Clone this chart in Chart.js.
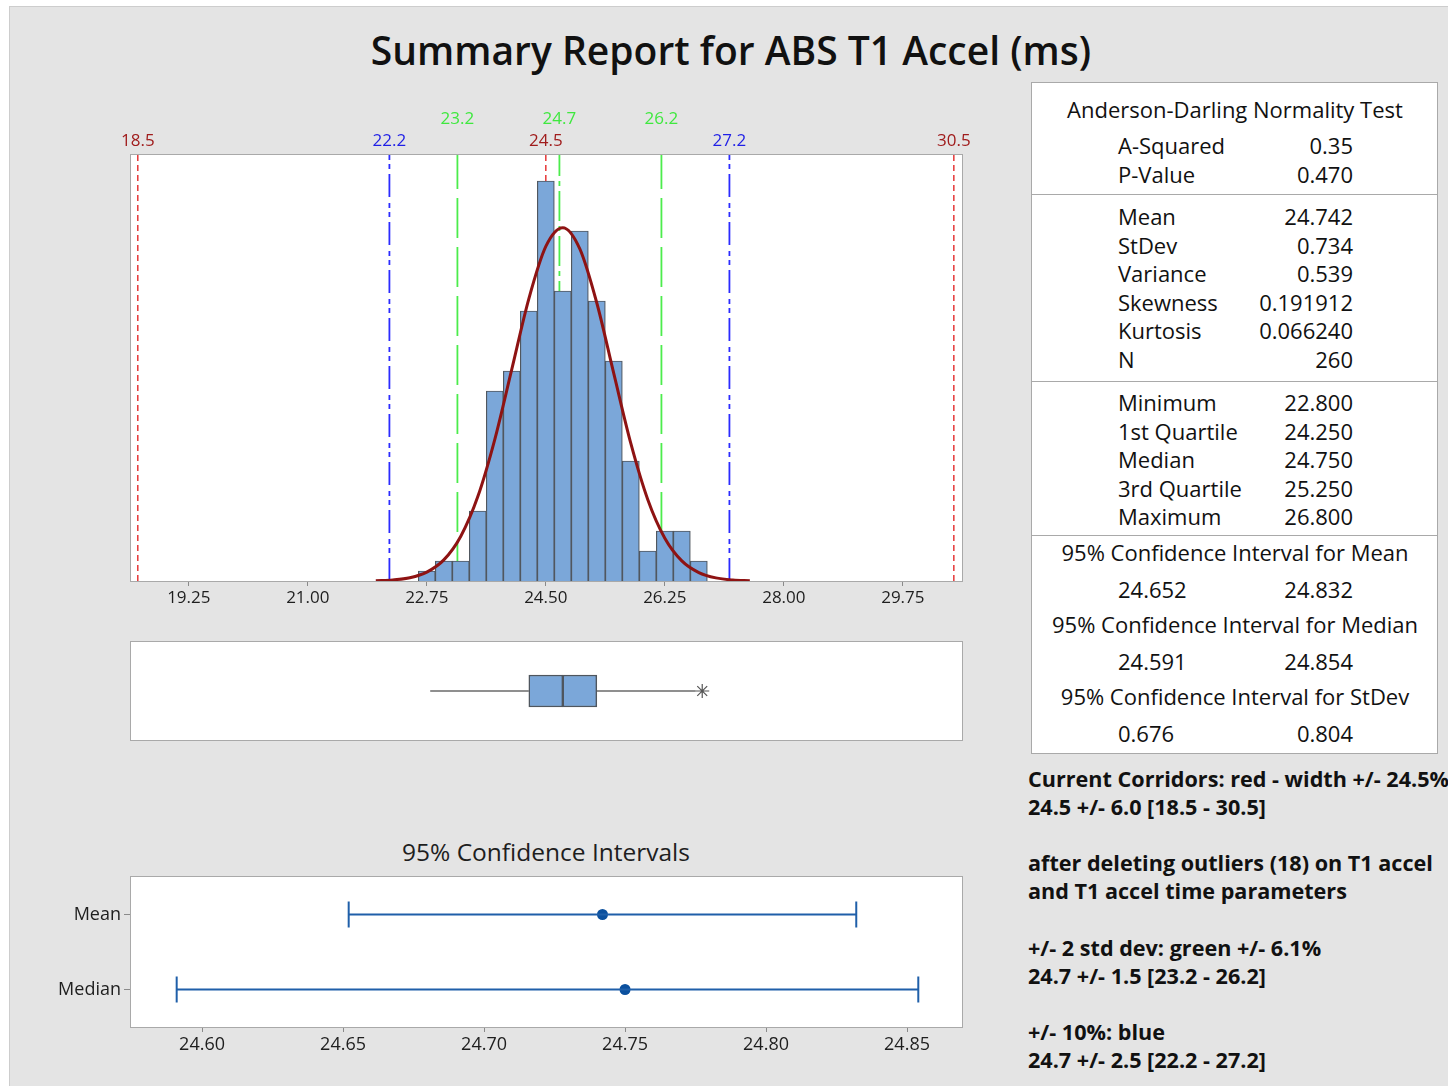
<!DOCTYPE html>
<html>
<head>
<meta charset="utf-8">
<title>Summary Report for ABS T1 Accel (ms)</title>
<script src="https://cdn.jsdelivr.net/npm/chart.js@4.4.1/dist/chart.umd.min.js"></script>
<style>
  html, body { margin: 0; padding: 0; width: 1448px; height: 1086px; overflow: hidden; background: #fff; }
  body { position: relative; font-family: "Open Sans", "Noto Sans", sans-serif; color: #141414; }
  #sheet { position: absolute; left: 9px; top: 6px; right: 0; bottom: 0; background: #e4e4e4; border-left: 1px solid #cdcdcd; border-top: 1px solid #cdcdcd; }
  canvas { position: absolute; }
  .txt { position: absolute; white-space: nowrap; }
  #title { left: 281px; width: 900px; top: 25px; text-align: center; font-size: 39px; font-weight: 600; line-height: 50px; color: #111; }
  #ciTitle { left: 346px; width: 400px; top: 837px; text-align: center; font-size: 24.5px; line-height: 30px; color: #1e1e1e; }
  #stats { position: absolute; left: 1031px; top: 82px; width: 407px; height: 672px; box-sizing: border-box; background: #fff; border: 1px solid #a9a9a9; }
  .sep { position: absolute; left: 1031px; width: 407px; height: 1px; background: #a9a9a9; }
  .st { position: absolute; white-space: nowrap; font-size: 22px; line-height: 28px; color: #111; }
  #notes { position: absolute; left: 1028px; top: 765px; font-size: 21.6px; font-weight: bold; line-height: 28.1px; white-space: nowrap; color: #111; }
</style>
</head>
<body>
<div id="sheet"></div>
<div class="txt" id="title">Summary Report for ABS T1 Accel (ms)</div>
<canvas id="hist" width="1000" height="530" style="left:31px;top:95px"></canvas>
<canvas id="box" width="1000" height="120" style="left:31px;top:630px"></canvas>
<div class="txt" id="ciTitle">95% Confidence Intervals</div>
<canvas id="ci" width="1000" height="224" style="left:20px;top:862px"></canvas>
<div id="stats"></div>
<div id="notes"></div>
<script>
const FONT = '"Open Sans", "Noto Sans", sans-serif';
Chart.defaults.font.family = FONT;
Chart.defaults.animation = false;

// histogram, 0.25 wide bins, N = 260
const binCenters = [22.75, 23.00, 23.25, 23.50, 23.75, 24.00, 24.25, 24.50, 24.75, 25.00, 25.25, 25.50, 25.75, 26.00, 26.25, 26.50, 26.75];
const binCounts = [1, 2, 2, 7, 19, 21, 27, 40, 29, 35, 28, 22, 12, 3, 5, 5, 2];

// fitted normal curve, read at 0.25 steps
const fitX = [22.00, 22.25, 22.50, 22.75, 23.00, 23.25, 23.50, 23.75, 24.00, 24.25, 24.50, 24.75,
              25.00, 25.25, 25.50, 25.75, 26.00, 26.25, 26.50, 26.75, 27.00, 27.25, 27.50];
const fitY = [0.03, 0.11, 0.33, 0.89, 2.11, 4.48, 8.44, 14.17, 21.19, 28.22, 33.46, 35.33,
              33.21, 27.80, 20.73, 13.76, 8.13, 4.28, 2.01, 0.84, 0.31, 0.10, 0.03];

const histTicks = [19.25, 21.00, 22.75, 24.50, 26.25, 28.00, 29.75];
const histMin = 18.40, histMax = 30.62, histTop = 42.6;

// corridor limits
const redLimits = [18.5, 24.5, 30.5];
const blueLimits = [22.2, 27.2];
const greenLimits = [23.2, 24.7, 26.2];

// boxplot
const boxWhiskers = [22.8, 26.7];
const boxQuartiles = [24.25, 24.75, 25.25];
const boxOutliers = [26.8];

// 95% confidence intervals
const ciLabels = ['Mean', 'Median'];
const ciCenter = [24.742, 24.750];
const ciLow = [24.652, 24.591];
const ciHigh = [24.832, 24.854];
const ciTicks = [24.60, 24.65, 24.70, 24.75, 24.80, 24.85];

// summary table
const adRows = [['A-Squared', '0.35'], ['P-Value', '0.470']];
const descRows = [['Mean', '24.742'], ['StDev', '0.734'], ['Variance', '0.539'],
                  ['Skewness', '0.191912'], ['Kurtosis', '0.066240'], ['N', '260']];
const quantRows = [['Minimum', '22.800'], ['1st Quartile', '24.250'], ['Median', '24.750'],
                   ['3rd Quartile', '25.250'], ['Maximum', '26.800']];
const ciTable = [['95% Confidence Interval for Mean', '24.652', '24.832'],
                 ['95% Confidence Interval for Median', '24.591', '24.854'],
                 ['95% Confidence Interval for StDev', '0.676', '0.804']];

const noteLines = [
  'Current Corridors: red - width +/- 24.5%',
  '24.5 +/- 6.0 [18.5 - 30.5]',
  '',
  'after deleting outliers (18) on T1 accel',
  'and T1 accel time parameters',
  '',
  '+/- 2 std dev: green +/- 6.1%',
  '24.7 +/- 1.5 [23.2 - 26.2]',
  '',
  '+/- 10%: blue',
  '24.7 +/- 2.5 [22.2 - 27.2]'
];

// white plot area with a thin grey frame
const plotFrame = {
  id: 'plotFrame',
  beforeDraw(chart) {
    const a = chart.chartArea, ctx = chart.ctx;
    ctx.save();
    ctx.fillStyle = '#fff';
    ctx.fillRect(a.left, a.top, a.right - a.left, a.bottom - a.top);
    ctx.restore();
  },
  afterDraw(chart) {
    const a = chart.chartArea, ctx = chart.ctx;
    ctx.save();
    ctx.strokeStyle = '#a9a9a9';
    ctx.lineWidth = 1;
    ctx.strokeRect(Math.round(a.left) - 0.5, Math.round(a.top) - 0.5,
                   Math.round(a.right - a.left) + 1, Math.round(a.bottom - a.top) + 1);
    ctx.restore();
  }
};

// corridor values written above the histogram
const limitLabels = {
  id: 'limitLabels',
  afterDraw(chart) {
    const sx = chart.scales.x, top = chart.chartArea.top, ctx = chart.ctx;
    ctx.save();
    ctx.font = '17px ' + FONT;
    ctx.textAlign = 'center';
    ctx.textBaseline = 'middle';
    const put = (vals, color, y) => vals.forEach(v => {
      ctx.fillStyle = color;
      ctx.fillText(v.toFixed(1), sx.getPixelForValue(v), y);
    });
    put(redLimits, '#a01c1c', top - 14);
    put(blueLimits, '#1f1fe6', top - 14);
    put(greenLimits, '#3fe83f', top - 36);
    ctx.restore();
  }
};

const limitSet = (v, color, dash, width) => ({
  type: 'line',
  data: [{x: v, y: 0}, {x: v, y: histTop}],
  borderColor: color,
  borderWidth: width,
  borderDash: dash,
  pointRadius: 0,
  order: 3
});

const fixedTicks = vals => scale => { scale.ticks = vals.map(v => ({value: v})); };

new Chart(document.getElementById('hist'), {
  type: 'bar',
  data: {
    datasets: [
      {
        type: 'line',
        data: fitX.map((x, i) => ({x: x, y: fitY[i]})),
        borderColor: '#8e1313',
        borderWidth: 3,
        pointRadius: 0,
        cubicInterpolationMode: 'monotone',
        order: 1
      },
      {
        type: 'bar',
        data: binCenters.map((x, i) => ({x: x, y: binCounts[i]})),
        backgroundColor: '#7ba7d9',
        borderColor: '#50575f',
        borderWidth: 1.2,
        barPercentage: 1,
        categoryPercentage: 1,
        order: 2
      },
      ...redLimits.map(v => limitSet(v, '#e42a2a', [6, 4], 1.4)),
      ...blueLimits.map(v => limitSet(v, '#2b2bff', [23, 5, 5, 4, 5, 6], 1.8)),
      ...greenLimits.map((v, i) => limitSet(v, '#4cec4c', i === 1 ? [30, 5, 5, 5] : [40, 9], 1.8))
    ]
  },
  options: {
    responsive: false,
    layout: { padding: { left: 100, right: 69, top: 60, bottom: 0 } },
    plugins: { legend: { display: false }, tooltip: { enabled: false } },
    scales: {
      x: {
        type: 'linear',
        offset: false,
        min: histMin,
        max: histMax,
        afterBuildTicks: fixedTicks(histTicks),
        afterFit: s => { s.height = 44; },
        ticks: { callback: v => v.toFixed(2), font: { size: 17 }, color: '#1e1e1e', padding: 2, maxRotation: 0, autoSkip: false },
        grid: { drawOnChartArea: false, offset: false, tickLength: 5, color: '#8a8a8a' },
        border: { display: false }
      },
      y: { display: false, min: 0, max: histTop }
    }
  },
  plugins: [plotFrame, limitLabels]
});

new Chart(document.getElementById('box'), {
  type: 'bar',
  data: {
    datasets: [
      {
        type: 'bar',
        indexAxis: 'y',
        data: [{x: [boxQuartiles[0], boxQuartiles[1]], y: 0}, {x: [boxQuartiles[1], boxQuartiles[2]], y: 0}],
        backgroundColor: '#7ba7d9',
        borderColor: '#4f565e',
        borderWidth: 1.5,
        borderSkipped: false,
        barThickness: 32
      },
      {
        type: 'line',
        data: [{x: boxWhiskers[0], y: 0}, {x: boxQuartiles[0], y: 0}],
        borderColor: '#6a6a6a', borderWidth: 1.6, pointRadius: 0
      },
      {
        type: 'line',
        data: [{x: boxQuartiles[2], y: 0}, {x: boxWhiskers[1], y: 0}],
        borderColor: '#6a6a6a', borderWidth: 1.6, pointRadius: 0
      },
      {
        type: 'scatter',
        data: boxOutliers.map(v => ({x: v, y: 0})),
        pointStyle: 'star',
        pointRadius: 7,
        borderColor: '#555',
        borderWidth: 1.2
      }
    ]
  },
  options: {
    responsive: false,
    layout: { padding: { left: 100, right: 69, top: 12, bottom: 10 } },
    plugins: { legend: { display: false }, tooltip: { enabled: false } },
    scales: {
      x: { type: 'linear', display: false, offset: false, min: histMin, max: histMax },
      y: { type: 'linear', display: false, offset: false, min: -1, max: 1 }
    }
  },
  plugins: [plotFrame]
});

new Chart(document.getElementById('ci'), {
  type: 'line',
  data: {
    datasets: [
      ...ciLabels.map((lab, i) => ({
        data: [{x: ciLow[i], y: lab}, {x: ciHigh[i], y: lab}],
        borderColor: '#1f5fa9',
        borderWidth: 2,
        pointStyle: 'line',
        pointRotation: 90,
        pointRadius: 13,
        pointBorderColor: '#1f5fa9',
        pointBorderWidth: 2
      })),
      {
        type: 'scatter',
        data: ciLabels.map((lab, i) => ({x: ciCenter[i], y: lab})),
        pointRadius: 5.5,
        backgroundColor: '#0b509e',
        borderColor: '#0b509e',
        borderWidth: 0
      }
    ]
  },
  options: {
    responsive: false,
    layout: { padding: { left: 0, right: 58, top: 0, bottom: 0 } },
    plugins: { legend: { display: false }, tooltip: { enabled: false } },
    scales: {
      x: {
        type: 'linear',
        min: 24.5748,
        max: 24.8695,
        afterBuildTicks: fixedTicks(ciTicks),
        afterFit: s => { s.height = 59; },
        ticks: { callback: v => v.toFixed(2), font: { size: 18 }, color: '#1e1e1e', padding: 2, maxRotation: 0, autoSkip: false },
        grid: { drawOnChartArea: false, tickLength: 5, color: '#8a8a8a' },
        border: { display: false }
      },
      y: {
        type: 'category',
        labels: ciLabels,
        offset: true,
        afterFit: s => { s.width = 111; },
        ticks: { font: { size: 18 }, color: '#1e1e1e', padding: 3 },
        grid: { drawOnChartArea: false, tickLength: 7, color: '#8a8a8a', offset: false },
        border: { display: false }
      }
    }
  },
  plugins: [plotFrame]
});

// summary table on the right
(function buildStats() {
  const body = document.body;
  const put = (text, x, y, align) => {
    const d = document.createElement('div');
    d.className = 'st';
    d.textContent = text;
    d.style.top = (y - 15) + 'px';
    if (align === 'right') { d.style.left = (x - 300) + 'px'; d.style.width = '300px'; d.style.textAlign = 'right'; }
    else if (align === 'center') { d.style.left = (x - 200) + 'px'; d.style.width = '400px'; d.style.textAlign = 'center'; }
    else d.style.left = x + 'px';
    body.appendChild(d);
  };
  const sep = y => {
    const d = document.createElement('div');
    d.className = 'sep';
    d.style.top = y + 'px';
    body.appendChild(d);
  };
  const L = 1118, R = 1353, C = 1235;

  put('Anderson-Darling Normality Test', C, 110, 'center');
  adRows.forEach((r, i) => { put(r[0], L, 146 + i * 29, 'left'); put(r[1], R, 146 + i * 29, 'right'); });
  sep(194);
  descRows.forEach((r, i) => { put(r[0], L, 217 + i * 28.6, 'left'); put(r[1], R, 217 + i * 28.6, 'right'); });
  sep(381);
  quantRows.forEach((r, i) => { put(r[0], L, 403 + i * 28.5, 'left'); put(r[1], R, 403 + i * 28.5, 'right'); });
  sep(535);
  ciTable.forEach((r, i) => {
    const y = 553 + i * 72;
    put(r[0], C, y, 'center');
    put(r[1], L, y + 37, 'left');
    put(r[2], R, y + 37, 'right');
  });

  document.getElementById('notes').innerHTML = noteLines.map(t => t || '&nbsp;').join('<br>');
})();
</script>
</body>
</html>
